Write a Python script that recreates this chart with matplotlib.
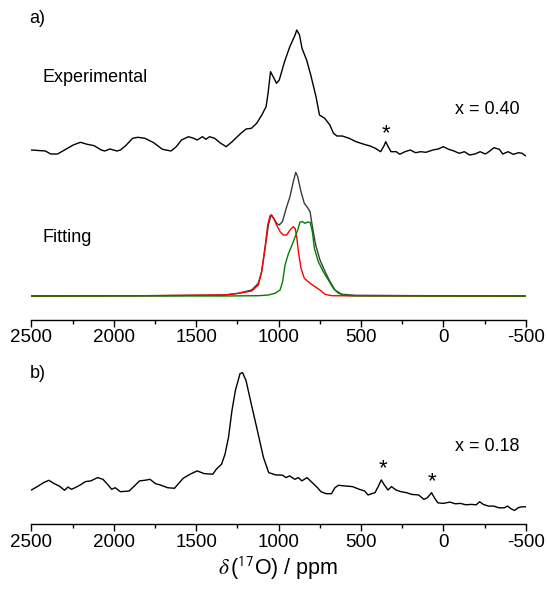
import numpy as np
import matplotlib
matplotlib.use("Agg")
import matplotlib.pyplot as plt
from matplotlib.ticker import MultipleLocator

plt.rcParams['font.family'] = ['Liberation Sans', 'DejaVu Sans']
plt.rcParams['mathtext.fontset'] = 'stix'
plt.rcParams['axes.unicode_minus'] = False

# a) x = 0.40, experimental spectrum (ppm, intensity a.u.)
exp_a_ppm = [2500, 2415, 2383, 2341, 2299, 2246, 2203, 2161, 2119, 2076, 2055, 2023, 1981, 1960,
             1928, 1886, 1854, 1811, 1758, 1705, 1653, 1621, 1589, 1547, 1515, 1494, 1462, 1441,
             1419, 1388, 1356, 1318, 1282, 1229, 1197, 1165, 1133, 1102, 1076, 1064, 1049, 1028,
             1013, 996, 964, 932, 900, 890, 873, 858, 830, 805, 773, 752, 720, 689, 667, 646,
             614, 572, 530, 487, 445, 413, 381, 360, 350, 335, 318, 286, 265, 233, 201, 169,
             138, 106, 64, 32, 0, -32, -64, -96, -127, -159, -191, -223, -254, -276, -307, -339,
             -360, -392, -424, -456, -477, -498]
exp_a_int = [10.0, 9.0, 6.0, 6.0, 10.0, 15.0, 17.7, 15.7, 14.3, 10.0, 9.0, 11.0, 9.0, 10.0,
             14.3, 21.7, 22.7, 21.7, 17.3, 10.7, 9.0, 13.3, 20.0, 23.3, 21.7, 20.0, 23.3, 20.7,
             23.3, 21.7, 17.3, 13.3, 18.3, 26.7, 31.0, 31.7, 36.7, 45.0, 53.3, 66.7, 88.3, 81.7,
             76.7, 80.0, 98.3, 113.3, 125.0, 130.0, 125.0, 111.7, 100.0, 85.0, 63.3, 45.0, 41.7, 35.0, 26.7, 24.0,
             24.0, 21.7, 18.3, 16.0, 14.0, 11.7, 8.3, 14.3, 18.3, 13.3, 8.3, 8.3, 5.7, 8.3, 10.0, 7.3,
             8.3, 7.7, 10.0, 11.0, 13.3, 10.7, 9.0, 6.7, 8.3, 5.0, 6.0, 8.3, 6.0, 8.3, 12.3, 10.7,
             6.0, 8.3, 5.7, 7.3, 6.7, 4.3]

# a) fitting: total, site 1 (red), site 2 (green)
fit_tot_ppm = [2500, 1800, 1325, 1244, 1163, 1123, 1103, 1082, 1062, 1046, 1032, 1012, 996, 977,
               951, 931, 911, 896, 884, 864, 844, 824, 809, 795, 775, 749, 718, 688, 658,
               617, 536, 0, -500]
fit_tot_int = [0.0, 0.3, 1.0, 2.7, 6.0, 12.7, 24.3, 47.7, 71.0, 81.0, 78.3, 72.7, 71.0, 74.3,
               89.3, 99.3, 114.3, 123.7, 119.3, 104.3, 92.7, 88.3, 84.3, 69.3, 51.0, 36.0, 24.3, 14.3, 6.0,
               1.7, 0.7, 0.2, 0.0]
fit_red_ppm = [2500, 1800, 1325, 1244, 1163, 1123, 1103, 1082, 1066, 1052, 1042, 1028, 1012, 991,
               971, 951, 931, 911, 900, 890, 880, 864, 844, 809, 779, 749, 718, 678, 500, 0, -500]
fit_red_int = [0.0, 0.3, 1.0, 2.7, 5.0, 11.0, 24.3, 49.3, 71.0, 80.3, 81.0, 77.0, 71.0, 64.3,
               61.0, 61.0, 66.0, 69.3, 67.7, 59.3, 44.3, 27.7, 17.7, 12.7, 9.3, 6.0, 1.7, 0.3, 0.1, 0.0, 0.0]
fit_grn_ppm = [2500, 1800, 1325, 1123, 1062, 1022, 991, 976, 961, 941, 921, 900, 884, 870,
               856, 840, 824, 809, 795, 783, 759, 729, 698, 668, 637, 597, 536, 0, -500]
fit_grn_int = [0.0, 0.1, 0.0, 0.3, 1.0, 2.7, 6.0, 14.0, 31.0, 42.0, 50.0, 59.0, 66.0, 74.0,
               74.3, 72.7, 74.0, 73.7, 64.3, 47.7, 34.3, 24.3, 16.0, 7.7, 2.7, 0.7, 0.2, 0.1, 0.0]

# b) x = 0.18, experimental spectrum
exp_b_ppm = [2500, 2458, 2426, 2394, 2362, 2331, 2299, 2278, 2257, 2235, 2204, 2172, 2140, 2098,
             2066, 2034, 2013, 1992, 1960, 1907, 1875, 1844, 1812, 1780, 1748, 1717, 1674, 1632,
             1611, 1579, 1537, 1494, 1452, 1399, 1378, 1346, 1325, 1304, 1283, 1262, 1234, 1219,
             1198, 1166, 1124, 1092, 1060, 1018, 976, 955, 933, 902, 880, 859, 828, 796, 764, 743,
             711, 679, 658, 637, 595, 552, 510, 478, 457, 436, 415, 394, 377, 358, 336, 315, 288,
             256, 224, 192, 150, 118, 97, 72, 55, 34, 2, -40, -72, -104, -136, -167, -199, -220,
             -242, -273, -305, -337, -369, -390, -411, -432, -453, -474, -500]
exp_b_int = [34.0, 38.0, 41.4, 43.7, 40.4, 38.0, 33.7, 37.0, 34.7, 36.3, 39.0, 42.4, 43.1, 46.4,
             44.7, 39.0, 34.7, 36.3, 32.3, 33.0, 38.0, 43.1, 43.7, 44.7, 40.4, 39.0, 36.3, 35.7,
             39.7, 45.7, 49.8, 53.1, 50.4, 49.8, 54.8, 59.8, 69.9, 86.7, 113.5, 133.7, 150.4, 151.4,
             143.7, 120.2, 90.0, 66.6, 51.4, 49.1, 48.8, 46.4, 48.1, 44.7, 46.4, 43.1, 46.4, 41.4, 36.3, 32.3,
             30.3, 30.3, 36.3, 38.7, 38.0, 37.4, 34.7, 33.0, 29.0, 30.3, 31.3, 38.0, 44.1, 39.0, 34.0, 37.4, 34.0,
             32.3, 31.3, 29.6, 29.0, 24.6, 26.3, 31.3, 26.3, 21.2, 20.6, 21.9, 20.2, 20.6, 19.2, 19.6, 19.2, 22.3,
             19.6, 17.9, 17.9, 16.2, 16.2, 17.9, 15.2, 13.5, 16.2, 17.2, 17.2]

W, H = 547, 592
fig = plt.figure(figsize=(W / 100, H / 100), dpi=100)

# axes placed in pixel units so that 1 y-unit = 1 px
ax_a = fig.add_axes([31.4 / W, (H - 319.5) / H, 494.4 / W, 319.5 / H])
ax_b = fig.add_axes([31.4 / W, (H - 524) / H, 494.4 / W, 184 / H])

ax_a.plot(exp_a_ppm, np.array(exp_a_int) + 159.5, color='black', lw=1.0)
ax_a.plot(fit_tot_ppm, np.array(fit_tot_int) + 23.5, color='#3a3a3a', lw=1.0)
ax_a.plot(fit_red_ppm, np.array(fit_red_int) + 23.5, color='#ff0000', lw=1.0)
ax_a.plot(fit_grn_ppm, np.array(fit_grn_int) + 23.5, color='#008000', lw=1.0)
ax_a.set_ylim(0, 319.5)

ax_b.plot(exp_b_ppm, exp_b_int, color='black', lw=1.0)
ax_b.set_ylim(0, 184)

for ax in (ax_a, ax_b):
    ax.set_xlim(2500, -500)
    for s in ('top', 'left', 'right'):
        ax.spines[s].set_visible(False)
    ax.spines['bottom'].set_linewidth(1.0)
    ax.set_yticks([])
    ax.xaxis.set_major_locator(MultipleLocator(500))
    ax.xaxis.set_minor_locator(MultipleLocator(250))
    ax.tick_params(axis='x', which='major', direction='out', length=5, width=1.0,
                   labelsize=13.5, pad=2)
    ax.tick_params(axis='x', which='minor', direction='out', length=3, width=1.0)
    ax.patch.set_alpha(0)

ax_b.set_xlabel(r'$\delta\,$($^{\mathsf{17}}$O) / ppm', fontsize=15.5, labelpad=3)

def ftext(x, y, s, **kw):
    fig.text(x / W, 1 - y / H, s, va='center', ha='left', fontsize=13, **kw)

ftext(29.7, 18.5, 'a)')
ftext(42, 77, 'Experimental')
ftext(455, 109, 'x = 0.40')
ftext(42, 238, 'Fitting')
ftext(30, 373.5, 'b)')
ftext(455, 446.7, 'x = 0.18')

# peak markers
for x, y in [(385.6, 129), (382.8, 464), (431.6, 477.6)]:
    fig.text(x / W, 1 - (y + 10) / H, '*', ha='center', va='baseline', fontsize=16)

fig.savefig('out.png', dpi=100)
